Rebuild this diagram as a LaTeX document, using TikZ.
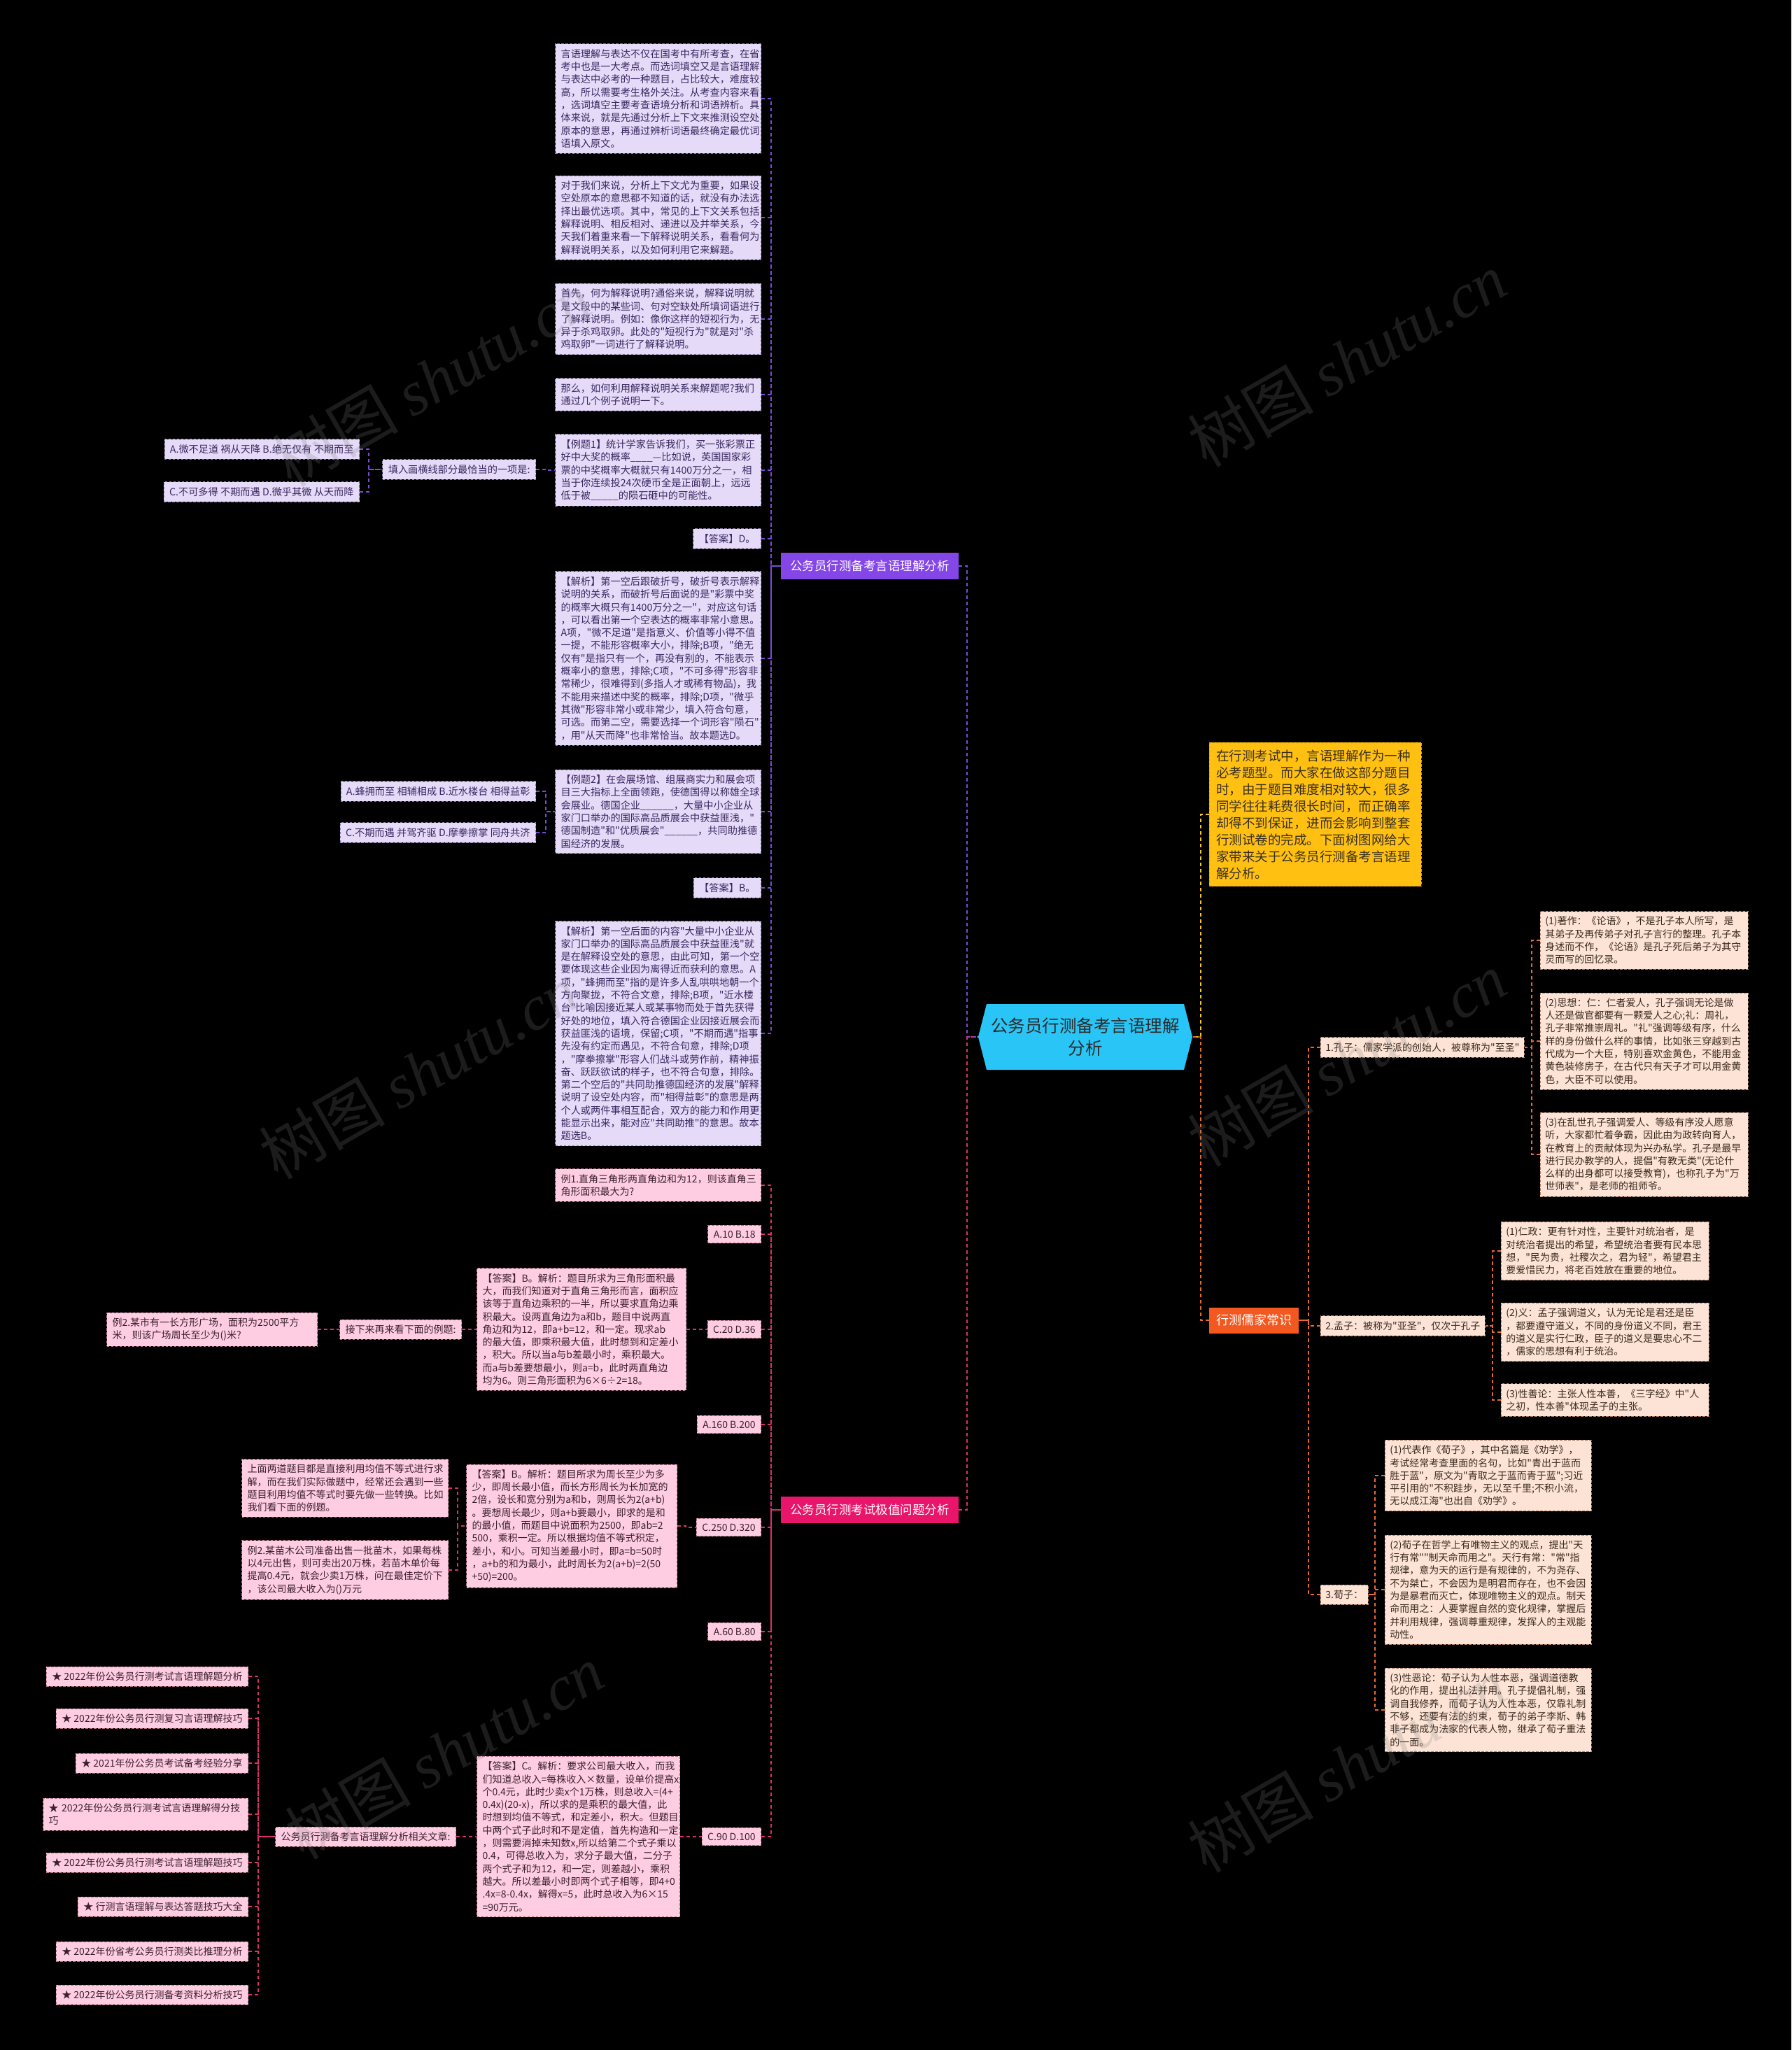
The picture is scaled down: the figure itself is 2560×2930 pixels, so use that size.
\documentclass[tikz,border=0pt]{standalone}
\usepackage{fontspec}
\setmainfont{Noto Sans CJK SC}[Ligatures=TeXOff]
\newfontfamily\wmserif{Liberation Serif}
\definecolor{bgk}{HTML}{000000}
\definecolor{lavfill}{HTML}{E5DAF8}
\definecolor{lavline}{HTML}{8C7FA8}
\definecolor{lavtext}{HTML}{3A2860}
\definecolor{pinkfill}{HTML}{FFCDE1}
\definecolor{pinkline}{HTML}{B07088}
\definecolor{pinktext}{HTML}{3A2030}
\definecolor{peachfill}{HTML}{FCE3D5}
\definecolor{peachline}{HTML}{B08068}
\definecolor{peachtext}{HTML}{3A2A20}
\definecolor{yelfill}{HTML}{FFC012}
\definecolor{yelline}{HTML}{E0A000}
\definecolor{yeltext}{HTML}{3A3020}
\definecolor{purplebr}{HTML}{8446E6}
\definecolor{pinkbr}{HTML}{E8156A}
\definecolor{orangebr}{HTML}{F2581F}
\definecolor{cyanf}{HTML}{29C5F6}
\definecolor{centertext}{HTML}{2B2B2B}
\definecolor{purpleline}{HTML}{7A4BD6}
\definecolor{pinkln}{HTML}{D9306E}
\definecolor{orangeln}{HTML}{E86A2E}
\definecolor{yelln}{HTML}{F5C330}
\tikzset{
  bx/.style={draw, dash pattern=on 3.5pt off 2.5pt, line width=0.9pt, inner xsep=8pt, inner ysep=7.5pt, align=left},
  lavbox/.style={bx, fill=lavfill, draw=lavline, text=lavtext, font=\fontsize{14.2}{18.3}\selectfont},
  pinkbox/.style={bx, fill=pinkfill, draw=pinkline, text=pinktext, font=\fontsize{14}{18.3}\selectfont},
  peachbox/.style={bx, fill=peachfill, draw=peachline, text=peachtext, inner xsep=7pt, font=\fontsize{14}{18.3}\selectfont},
  branch/.style={inner sep=0pt, text=white, align=center, font=\fontsize{17.5}{20}\selectfont},
  lk/.style={dash pattern=on 5pt off 4pt, line width=1.6pt},
  plk/.style={lk, draw=purpleline},
  klk/.style={lk, draw=pinkln},
  olk/.style={lk, draw=orangeln},
  ylk/.style={lk, draw=yelln},
  wm/.style={rotate=30, text=gray, opacity=0.22, font=\fontsize{90}{90}\selectfont}
}
\begin{document}
\begin{tikzpicture}[x=1pt,y=-1pt]
\fill[bgk] (0,0) rectangle (2560,2930);
\useasboundingbox (0,0) rectangle (2560,2930);

% ---------- root ----------
\fill[cyanf] (1410,1435) -- (1692,1435) -- (1704,1482) -- (1692,1529) -- (1410,1529) -- (1398,1482) -- cycle;
\node[font=\fontsize{24.5}{32}\selectfont, text=centertext, align=center, minimum width=306pt, minimum height=94pt, inner sep=0pt] (root) at (1551,1482) {公务员行测备考言语理解\\分析};

% ---------- branches ----------
\node[branch, fill=purplebr, minimum width=254pt, minimum height=38pt] (pb) at (1243,809) {公务员行测备考言语理解分析};
\node[branch, fill=pinkbr, minimum width=254pt, minimum height=38pt] (kb) at (1243,2158) {公务员行测考试极值问题分析};
\node[branch, fill=orangebr, minimum width=128pt, minimum height=37pt, font=\fontsize{18}{20}\selectfont] (ob) at (1792,1887) {行测儒家常识};
\node[bx, fill=yelfill, draw=yelline, text=yeltext, text width=283pt, inner xsep=10pt, inner ysep=10pt, font=\fontsize{18.5}{24}\selectfont, anchor=west] (yb) at (1728,1164) {在行测考试中，言语理解作为一种\\必考题型。而大家在做这部分题目\\时，由于题目难度相对较大，很多\\同学往往耗费很长时间，而正确率\\却得不到保证，进而会影响到整套\\行测试卷的完成。下面树图网给大\\家带来关于公务员行测备考言语理\\解分析。};

% ---------- purple children ----------
\node[lavbox, text width=278pt, anchor=east] (p1) at (1088,141) {言语理解与表达不仅在国考中有所考查，在省\\考中也是一大考点。而选词填空又是言语理解\\与表达中必考的一种题目，占比较大，难度较\\高，所以需要考生格外关注。从考查内容来看\\，选词填空主要考查语境分析和词语辨析。具\\体来说，就是先通过分析上下文来推测设空处\\原本的意思，再通过辨析词语最终确定最优词\\语填入原文。};
\node[lavbox, text width=278pt, anchor=east] (p2) at (1088,311) {对于我们来说，分析上下文尤为重要，如果设\\空处原本的意思都不知道的话，就没有办法选\\择出最优选项。其中，常见的上下文关系包括\\解释说明、相反相对、递进以及并举关系，今\\天我们着重来看一下解释说明关系，看看何为\\解释说明关系，以及如何利用它来解题。};
\node[lavbox, text width=278pt, anchor=east] (p3) at (1088,456) {首先，何为解释说明?通俗来说，解释说明就\\是文段中的某些词、句对空缺处所填词语进行\\了解释说明。例如：像你这样的短视行为，无\\异于杀鸡取卵。此处的"短视行为"就是对"杀\\鸡取卵"一词进行了解释说明。};
\node[lavbox, text width=278pt, anchor=east] (p4) at (1088,564) {那么，如何利用解释说明关系来解题呢?我们\\通过几个例子说明一下。};
\node[lavbox, text width=278pt, anchor=east] (p5) at (1088,672) {【例题1】统计学家告诉我们，买一张彩票正\\好中大奖的概率\_\_\_\_—比如说，英国国家彩\\票的中奖概率大概就只有1400万分之一，相\\当于你连续投24次硬币全是正面朝上，远远\\低于被\_\_\_\_\_的陨石砸中的可能性。};
\node[lavbox, anchor=east] (q1) at (766,671) {填入画横线部分最恰当的一项是:};
\node[lavbox, anchor=east] (o1a) at (514,642) {A.微不足道 祸从天降 B.绝无仅有 不期而至};
\node[lavbox, anchor=east] (o1c) at (514,703) {C.不可多得 不期而遇 D.微乎其微 从天而降};
\node[lavbox, anchor=east] (p6) at (1088,770) {【答案】D。};
\node[lavbox, text width=278pt, anchor=east] (p7) at (1088,941) {【解析】第一空后跟破折号，破折号表示解释\\说明的关系，而破折号后面说的是"彩票中奖\\的概率大概只有1400万分之一"，对应这句话\\，可以看出第一个空表达的概率非常小意思。\\A项，"微不足道"是指意义、价值等小得不值\\一提，不能形容概率大小，排除;B项，"绝无\\仅有"是指只有一个，再没有别的，不能表示\\概率小的意思，排除;C项，"不可多得"形容非\\常稀少，很难得到(多指人才或稀有物品)，我\\不能用来描述中奖的概率，排除;D项，"微乎\\其微"形容非常小或非常少，填入符合句意，\\可选。而第二空，需要选择一个词形容"陨石"\\，用"从天而降"也非常恰当。故本题选D。};
\node[lavbox, text width=278pt, anchor=east] (p8) at (1088,1160) {【例题2】在会展场馆、组展商实力和展会项\\目三大指标上全面领跑，使德国得以称雄全球\\会展业。德国企业\_\_\_\_\_\_，大量中小企业从\\家门口举办的国际高品质展会中获益匪浅，"\\德国制造"和"优质展会"\_\_\_\_\_\_，共同助推德\\国经济的发展。};
\node[lavbox, anchor=east] (o2a) at (766,1131) {A.蜂拥而至 相辅相成 B.近水楼台 相得益彰};
\node[lavbox, anchor=east] (o2c) at (766,1190) {C.不期而遇 并驾齐驱 D.摩拳擦掌 同舟共济};
\node[lavbox, anchor=east] (p9) at (1088,1269) {【答案】B。};
\node[lavbox, text width=278pt, anchor=east] (p10) at (1088,1477) {【解析】第一空后面的内容"大量中小企业从\\家门口举办的国际高品质展会中获益匪浅"就\\是在解释设空处的意思，由此可知，第一个空\\要体现这些企业因为离得近而获利的意思。A\\项，"蜂拥而至"指的是许多人乱哄哄地朝一个\\方向聚拢，不符合文意，排除;B项，"近水楼\\台"比喻因接近某人或某事物而处于首先获得\\好处的地位，填入符合德国企业因接近展会而\\获益匪浅的语境，保留;C项，"不期而遇"指事\\先没有约定而遇见，不符合句意，排除;D项\\，"摩拳擦掌"形容人们战斗或劳作前，精神振\\奋、跃跃欲试的样子，也不符合句意，排除。\\第二个空后的"共同助推德国经济的发展"解释\\说明了设空处内容，而"相得益彰"的意思是两\\个人或两件事相互配合，双方的能力和作用更\\能显示出来，能对应"共同助推"的意思。故本\\题选B。};

% ---------- pink children ----------
\node[pinkbox, text width=278pt, anchor=east] (k1) at (1088,1694) {例1.直角三角形两直角边和为12，则该直角三\\角形面积最大为?};
\node[pinkbox, anchor=east] (k2) at (1088,1764) {A.10 B.18};
\node[pinkbox, anchor=east] (k3) at (1088,1900) {C.20 D.36};
\node[pinkbox, text width=283pt, anchor=east] (k3a) at (981,1900) {【答案】B。解析：题目所求为三角形面积最\\大，而我们知道对于直角三角形而言，面积应\\该等于直角边乘积的一半，所以要求直角边乘\\积最大。设两直角边为a和b，题目中说两直\\角边和为12，即a+b=12，和一定。现求ab\\的最大值，即乘积最大值，此时想到和定差小\\，积大。所以当a与b差最小时，乘积最大。\\而a与b差要想最小，则a=b，此时两直角边\\均为6。则三角形面积为6×6÷2=18。};
\node[pinkbox, anchor=east] (k3b) at (660,1900) {接下来再来看下面的例题:};
\node[pinkbox, text width=285pt, anchor=east] (k3c) at (454,1900) {例2.某市有一长方形广场，面积为2500平方\\米，则该广场周长至少为()米?};
\node[pinkbox, anchor=east] (k4) at (1088,2036) {A.160 B.200};
\node[pinkbox, anchor=east] (k5) at (1088,2183) {C.250 D.320};
\node[pinkbox, text width=285pt, anchor=east] (k5a) at (968,2181) {【答案】B。解析：题目所求为周长至少为多\\少，即周长最小值，而长方形周长为长加宽的\\2倍，设长和宽分别为a和b，则周长为2(a+b)\\。要想周长最少，则a+b要最小，即求的是和\\的最小值，而题目中说面积为2500，即ab=2\\500，乘积一定。所以根据均值不等式积定，\\差小，和小。可知当差最小时，即a=b=50时\\，a+b的和为最小，此时周长为2(a+b)=2(50\\+50)=200。};
\node[pinkbox, text width=279pt, anchor=east] (k5b) at (641,2127) {上面两道题目都是直接利用均值不等式进行求\\解，而在我们实际做题中，经常还会遇到一些\\题目利用均值不等式时要先做一些转换。比如\\我们看下面的例题。};
\node[pinkbox, text width=279pt, anchor=east] (k5c) at (641,2244) {例2.某苗木公司准备出售一批苗木，如果每株\\以4元出售，则可卖出20万株，若苗木单价每\\提高0.4元，就会少卖1万株，问在最佳定价下\\，该公司最大收入为()万元};
\node[pinkbox, anchor=east] (k6) at (1088,2332) {A.60 B.80};
\node[pinkbox, anchor=east] (k7) at (1088,2625) {C.90 D.100};
\node[pinkbox, text width=274pt, anchor=east] (k7a) at (972,2625) {【答案】C。解析：要求公司最大收入，而我\\们知道总收入=每株收入×数量，设单价提高x\\个0.4元，此时少卖x个1万株，则总收入=(4+\\0.4x)(20-x)，所以求的是乘积的最大值，此\\时想到均值不等式，和定差小，积大。但题目\\中两个式子此时和不是定值，首先构造和一定\\，则需要消掉未知数x,所以给第二个式子乘以\\0.4，可得总收入为，求分子最大值，二分子\\两个式子和为12，和一定，则差越小，乘积\\越大。所以差最小时即两个式子相等，即4+0\\.4x=8-0.4x，解得x=5，此时总收入为6×15\\=90万元。};
\node[pinkbox, anchor=east] (k7b) at (652,2625) {公务员行测备考言语理解分析相关文章:};
\node[pinkbox, anchor=east] (s1) at (355,2396) {★ 2022年份公务员行测考试言语理解题分析};
\node[pinkbox, anchor=east] (s2) at (355,2456) {★ 2022年份公务员行测复习言语理解技巧};
\node[pinkbox, anchor=east] (s3) at (355,2520) {★ 2021年份公务员考试备考经验分享};
\node[pinkbox, text width=277pt, anchor=east] (s4) at (355,2593) {★ 2022年份公务员行测考试言语理解得分技\\巧};
\node[pinkbox, anchor=east] (s5) at (355,2662) {★ 2022年份公务员行测考试言语理解题技巧};
\node[pinkbox, anchor=east] (s6) at (355,2725) {★ 行测言语理解与表达答题技巧大全};
\node[pinkbox, anchor=east] (s7) at (355,2789) {★ 2022年份省考公务员行测类比推理分析};
\node[pinkbox, anchor=east] (s8) at (355,2851) {★ 2022年份公务员行测备考资料分析技巧};

% ---------- orange children ----------
\node[peachbox, anchor=west] (z1) at (1887,1497) {1.孔子：儒家学派的创始人，被尊称为"至圣"};
\node[peachbox, text width=283pt, anchor=west] (z1a) at (2201,1344) {(1)著作：《论语》，不是孔子本人所写，是\\其弟子及再传弟子对孔子言行的整理。孔子本\\身述而不作，《论语》是孔子死后弟子为其守\\灵而写的回忆录。};
\node[peachbox, text width=283pt, anchor=west] (z1b) at (2201,1488) {(2)思想：仁：仁者爱人，孔子强调无论是做\\人还是做官都要有一颗爱人之心;礼：周礼，\\孔子非常推崇周礼。"礼"强调等级有序，什么\\样的身份做什么样的事情，比如张三穿越到古\\代成为一个大臣，特别喜欢金黄色，不能用金\\黄色装修房子，在古代只有天子才可以用金黄\\色，大臣不可以使用。};
\node[peachbox, text width=283pt, anchor=west] (z1c) at (2201,1650) {(3)在乱世孔子强调爱人、等级有序没人愿意\\听，大家都忙着争霸，因此由为政转向育人，\\在教育上的贡献体现为兴办私学。孔子是最早\\进行民办教学的人，提倡"有教无类"(无论什\\么样的出身都可以接受教育)，也称孔子为"万\\世师表"，是老师的祖师爷。};
\node[peachbox, anchor=west] (z2) at (1887,1895) {2.孟子：被称为"亚圣"，仅次于孔子};
\node[peachbox, text width=283pt, anchor=west] (z2a) at (2145,1788) {(1)仁政：更有针对性，主要针对统治者，是\\对统治者提出的希望，希望统治者要有民本思\\想，"民为贵，社稷次之，君为轻"，希望君主\\要爱惜民力，将老百姓放在重要的地位。};
\node[peachbox, text width=283pt, anchor=west] (z2b) at (2145,1904) {(2)义：孟子强调道义，认为无论是君还是臣\\，都要遵守道义，不同的身份道义不同，君王\\的道义是实行仁政，臣子的道义是要忠心不二\\，儒家的思想有利于统治。};
\node[peachbox, text width=283pt, anchor=west] (z2c) at (2145,2001) {(3)性善论：主张人性本善，《三字经》中"人\\之初，性本善"体现孟子的主张。};
\node[peachbox, anchor=west] (z3) at (1887,2279) {3.荀子：};
\node[peachbox, text width=281pt, anchor=west] (z3a) at (1979,2109) {(1)代表作《荀子》，其中名篇是《劝学》，\\考试经常考查里面的名句，比如"青出于蓝而\\胜于蓝"，原文为"青取之于蓝而青于蓝";习近\\平引用的"不积跬步，无以至千里;不积小流，\\无以成江海"也出自《劝学》。};
\node[peachbox, text width=281pt, anchor=west] (z3b) at (1979,2272) {(2)荀子在哲学上有唯物主义的观点，提出"天\\行有常""制天命而用之"。天行有常："常"指\\规律，意为天的运行是有规律的，不为尧存、\\不为桀亡，不会因为是明君而存在，也不会因\\为是暴君而灭亡，体现唯物主义的观点。制天\\命而用之：人要掌握自然的变化规律，掌握后\\并利用规律，强调尊重规律，发挥人的主观能\\动性。};
\node[peachbox, text width=281pt, anchor=west] (z3c) at (1979,2444) {(3)性恶论：荀子认为人性本恶，强调道德教\\化的作用，提出礼法并用。孔子提倡礼制，强\\调自我修养，而荀子认为人性本恶，仅靠礼制\\不够，还要有法的约束，荀子的弟子李斯、韩\\非子都成为法家的代表人物，继承了荀子重法\\的一面。};

% ---------- connectors ----------
\draw[plk] (pb.east) -- ++(12,0) |- (root.west);
\draw[klk] (kb.east) -- ++(12,0) |- (root.west);
\draw[ylk] (yb.west) -- ++(-12,0) |- (root.east);
\draw[olk] (ob.west) -- ++(-12,0) |- (root.east);

\foreach \n in {p1,p2,p3,p4,p5,p6,p7,p8,p9,p10}
  \draw[plk] (\n.east) -- ++(14,0) |- (pb.west);
\draw[plk] (q1.east) -- ++(14,0) |- (p5.west);
\draw[plk] (o1a.east) -- ++(13,0) |- (q1.west);
\draw[plk] (o1c.east) -- ++(13,0) |- (q1.west);
\draw[plk] (o2a.east) -- ++(14,0) |- (p8.west);
\draw[plk] (o2c.east) -- ++(14,0) |- (p8.west);

\foreach \n in {k1,k2,k3,k4,k5,k6,k7}
  \draw[klk] (\n.east) -- ++(14,0) |- (kb.west);
\draw[klk] (k3a.east) -- ++(12,0) |- (k3.west);
\draw[klk] (k3b.east) -- ++(11,0) |- (k3a.west);
\draw[klk] (k3c.east) -- ++(12,0) |- (k3b.west);
\draw[klk] (k5a.east) -- ++(12,0) |- (k5.west);
\draw[klk] (k5b.east) -- ++(13,0) |- (k5a.west);
\draw[klk] (k5c.east) -- ++(13,0) |- (k5a.west);
\draw[klk] (k7a.east) -- ++(15,0) |- (k7.west);
\draw[klk] (k7b.east) -- ++(15,0) |- (k7a.west);
\foreach \n in {s1,s2,s3,s4,s5,s6,s7,s8}
  \draw[klk] (\n.east) -- ++(14,0) |- (k7b.west);

\foreach \n in {z1,z2,z3}
  \draw[olk] (\n.west) -- ++(-17,0) |- (ob.east);
\foreach \n in {z1a,z1b,z1c}
  \draw[olk] (\n.west) -- ++(-12,0) |- (z1.east);
\foreach \n in {z2a,z2b,z2c}
  \draw[olk] (\n.west) -- ++(-12,0) |- (z2.east);
\foreach \n in {z3a,z3b,z3c}
  \draw[olk] (\n.west) -- ++(-14,0) |- (z3.east);

% ---------- watermark ----------
\foreach \x/\y in {617/542, 1925/514, 598/1532, 1925/1514, 635/2504, 1925/2523}
  \node[wm] (wm\x) at (\x,\y) {树图 {\wmserif\itshape shutu.cn}};
\end{tikzpicture}
\end{document}
